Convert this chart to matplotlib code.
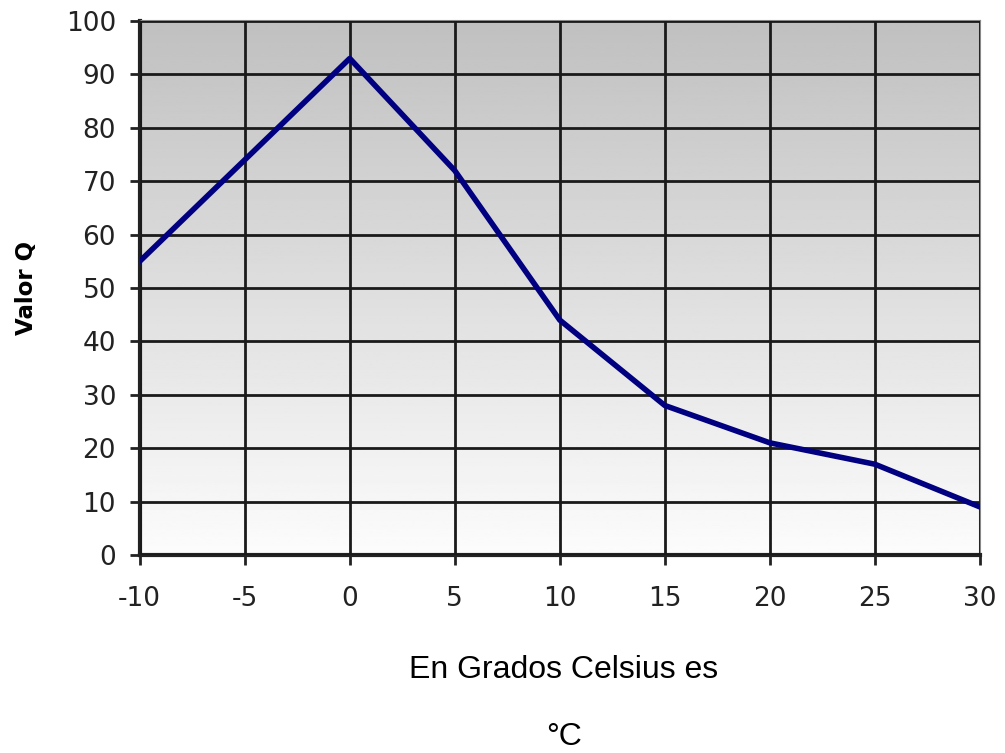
import numpy as np
import matplotlib.pyplot as plt

plt.rcParams['axes.unicode_minus'] = False

# temperatura vs valor Q
temp = [-10, -5, 0, 5, 10, 15, 20, 25, 30]
valor_q = [55, 74, 93, 72, 44, 28, 21, 17, 9]
x_ticks = [-10, -5, 0, 5, 10, 15, 20, 25, 30]
y_ticks = [0, 10, 20, 30, 40, 50, 60, 70, 80, 90, 100]

fig = plt.figure(figsize=(10.05, 7.53), dpi=100)
ax = fig.add_axes([0.139, 0.263, 0.836, 0.709])

# fondo degradado gris -> blanco
grad = np.linspace(0, 1, 256).reshape(-1, 1)
ax.imshow(grad, cmap='gray', vmin=-3.2, vmax=1.05, aspect='auto',
          extent=[0, 1, 0, 1], transform=ax.transAxes, zorder=0)

ax.plot(temp, valor_q, color='#000080', linewidth=4, zorder=3,
        solid_joinstyle='round')

ax.set_xlim(-10, 30)
ax.set_ylim(0, 100)
ax.set_xticks(x_ticks)
ax.set_yticks(y_ticks)
ax.grid(True, color='#1a1a1a', linewidth=2, zorder=1)
ax.set_axisbelow(False)

for s in ['top', 'right']:
    ax.spines[s].set_color('#888888')
    ax.spines[s].set_linewidth(1.5)
for s in ['left', 'bottom']:
    ax.spines[s].set_color('#222222')
    ax.spines[s].set_linewidth(3)
ax.tick_params(direction='out', length=7, width=2, color='#222222',
               labelsize=19, labelcolor='#222222')
ax.tick_params(axis='x', pad=15)
ax.tick_params(axis='y', pad=10)
for lab in ax.get_xticklabels() + ax.get_yticklabels():
    lab.set_family('DejaVu Sans')
    lab.set_fontweight('medium')

ax.set_ylabel('Valor Q', fontsize=16.5, fontweight='bold', labelpad=20)

fig.text(0.561, 0.11, 'En Grados Celsius es', ha='center', va='center',
         fontsize=23, family='Liberation Sans')
fig.text(0.561, 0.021, '°C', ha='center', va='center',
         fontsize=23, family='Liberation Sans')

fig.savefig('out.png', dpi=100)
